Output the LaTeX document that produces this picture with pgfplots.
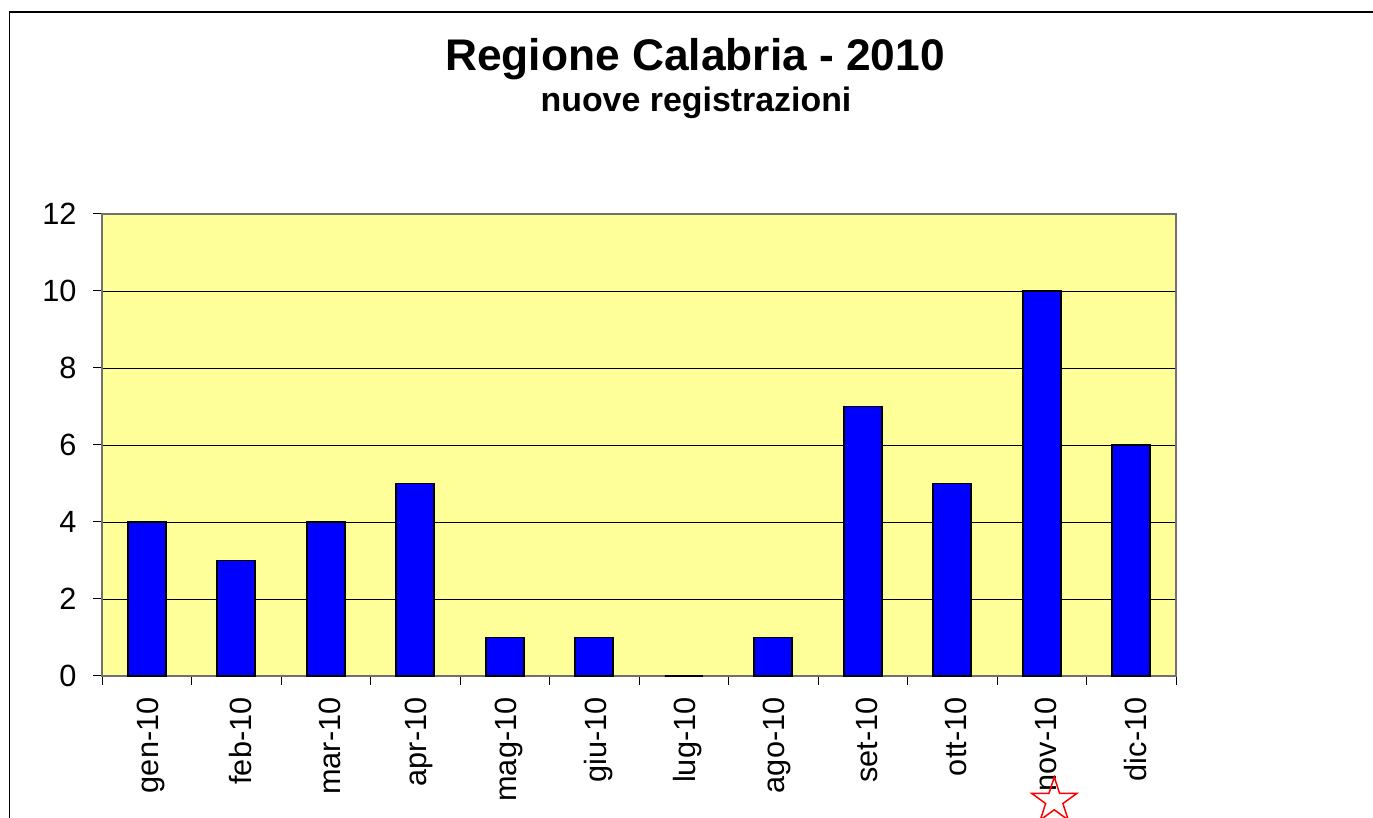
\documentclass[border=0pt]{standalone}
\usepackage{pgfplots}
\pgfplotsset{compat=1.18}
\usepackage{fontspec}
\setmainfont{Liberation Sans}
\usetikzlibrary{shapes.geometric}
\definecolor{bgyellow}{HTML}{FFFF99}
\definecolor{barblue}{HTML}{0000FF}
\definecolor{axgray}{HTML}{707070}
\begin{document}
\begin{tikzpicture}[x=1pt,y=1pt]
\clip (0,0) rectangle (1373,818);
\fill[white] (0,0) rectangle (1373,818);
\draw[line width=1.2pt] (9.5,-20) -- (9.5,806) -- (1400,806);
\node[font=\fontsize{44.3}{50}\selectfont\bfseries, anchor=base] at (695,747) {Regione Calabria - 2010};
\node[font=\fontsize{33.9}{40}\selectfont\bfseries, anchor=base] at (696,706) {nuove registrazioni};
\begin{axis}[
  at={(102pt,142pt)}, anchor=south west,
  scale only axis, width=1074pt, height=462pt,
  xmin=-0.5, xmax=11.5, ymin=0, ymax=12,
  ytick={0,2,...,12},
  xtick={0,...,11},
  xticklabels={gen-10,feb-10,mar-10,apr-10,mag-10,giu-10,lug-10,ago-10,set-10,ott-10,nov-10,dic-10},
  minor xtick={-0.5,0.5,...,11.5},
  major x tick style={draw=none},
  tick align=outside,
  major tick length=9pt, minor tick length=9pt,
  xtick pos=bottom, ytick pos=left,
  tick style={black, line width=1pt},
  ymajorgrids, grid style={black, line width=0.9pt},
  axis line style={axgray, line width=1.3pt},
  axis background/.style={fill=bgyellow},
  ticklabel style={font=\fontsize{30.7}{36}\selectfont},
  /pgf/number format/assume math mode=true,
  xticklabel style={rotate=90, anchor=east, yshift=-4pt},
  xticklabel shift=9pt,
  yticklabel style={xshift=-13pt},
  clip=false,
]
\addplot[ybar, bar width=38pt, fill=barblue, draw=black, line width=1.6pt]
  coordinates {(0,4) (1,3) (2,4) (3,5) (4,1) (5,1) (6,0) (7,1) (8,7) (9,5) (10,10) (11,6)};
\node[star, star points=5, star point ratio=2.618, draw=red, line width=1.5pt, inner sep=0pt, minimum size=47.5pt, fill=none] at (axis cs:10.14,-3.24) {};
\end{axis}
\end{tikzpicture}
\end{document}
